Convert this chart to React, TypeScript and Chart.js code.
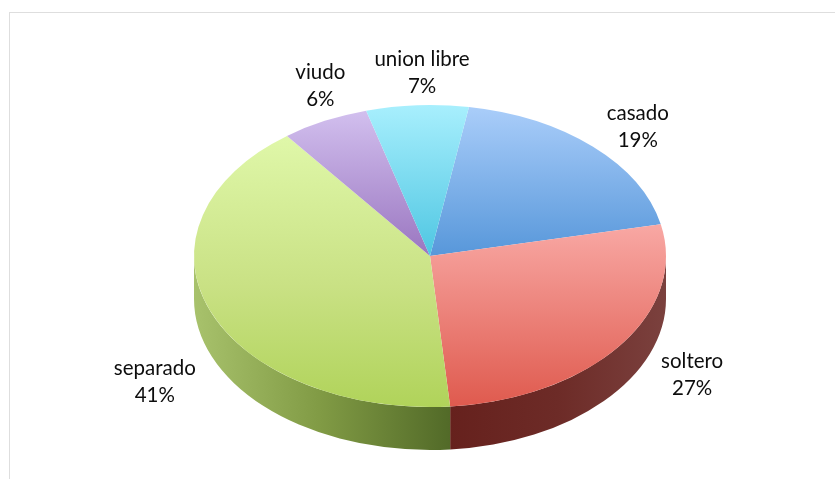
import React, { useEffect, useRef } from "react";
import { Chart, registerables } from "chart.js";

Chart.register(...registerables);

// ---- data ----
const categories = ["casado", "soltero", "separado", "viudo", "union libre"];
const values = [19, 27, 41, 6, 7];
const percentLabels = ["19%", "27%", "41%", "6%", "7%"];

// ---- styles ----
// top-face vertical gradients: [position (0 = pie top, 1 = pie bottom), colour]
const topGradients: [number, string][][] = [
  [[0, "#abcefa"], [0.5, "#5797da"]],
  [[0.38, "#f9aaa6"], [1, "#df5a4e"]],
  [[0.09, "#e0f8aa"], [0.6, "#c9e184"], [1, "#b0d35a"]],
  [[0, "#d4c2f0"], [0.5, "#9a76c0"]],
  [[0, "#a8effd"], [0.5, "#4ec6e2"]],
];
// side-wall horizontal gradients (left -> right of visible wall piece)
const wallGradients: [number, string][][] = [
  [[0, "#3d6fa8"], [1, "#3d6fa8"]],
  [[0, "#66211d"], [0.5, "#6d2b27"], [1, "#7b413e"]],
  [[0, "#a8c26c"], [0.5, "#809a44"], [1, "#526a28"]],
  [[0, "#6a5090"], [1, "#6a5090"]],
  [[0, "#2e8fa8"], [1, "#2e8fa8"]],
];
const labelNudges: [number, number][] = [
  [4, 8],
  [25, 7],
  [0, 58],
  [22, -1],
  [8, 6],
];

const CX = 430;
const CY = 256;
const RX = 236;
const RY = 151;
const DEPTH = 43;
const LABEL_K = 1.25;
const FONT = "20.5px Lato, 'Open Sans', sans-serif";

const pie3dPlugin = {
  id: "pie3d",
  beforeDatasetsDraw(chart: any) {
    const meta = chart.getDatasetMeta(0);
    const arcs = meta.data as any[];
    if (!arcs.length) return;
    const ctx: CanvasRenderingContext2D = chart.ctx;
    const TAU = Math.PI * 2;
    // side walls (front half only: canvas angles 0..PI)
    arcs.forEach((arc, i) => {
      const s = arc.startAngle;
      const e = arc.endAngle;
      for (let k = -2; k <= 2; k++) {
        const lo = k * TAU;
        const hi = lo + Math.PI;
        const a1 = Math.max(s, lo);
        const a2 = Math.min(e, hi);
        if (a2 <= a1) continue;
        const xa = CX + RX * Math.cos(a1);
        const xb = CX + RX * Math.cos(a2);
        let xmin = Math.min(xa, xb);
        let xmax = Math.max(xa, xb);
        if (a1 <= lo + Math.PI && a2 >= lo + Math.PI) xmin = CX - RX;
        if (a1 <= lo && a2 >= lo) xmax = CX + RX;
        const g = ctx.createLinearGradient(xmin, 0, xmax, 0);
        wallGradients[i].forEach(([p, c]) => g.addColorStop(p, c));
        ctx.save();
        ctx.beginPath();
        ctx.ellipse(CX, CY, RX, RY, 0, a1 - lo, a2 - lo, false);
        ctx.ellipse(CX, CY + DEPTH, RX, RY, 0, a2 - lo, a1 - lo, true);
        ctx.closePath();
        ctx.fillStyle = g;
        ctx.fill();
        ctx.restore();
      }
    });
    // squash the library's circle into the ellipse for the top faces
    const r = arcs[0].outerRadius;
    ctx.save();
    ctx.translate(CX, CY);
    ctx.scale(RX / r, RY / r);
    ctx.translate(-arcs[0].x, -arcs[0].y);
  },
  afterDatasetsDraw(chart: any) {
    const ctx: CanvasRenderingContext2D = chart.ctx;
    ctx.restore();
    const meta = chart.getDatasetMeta(0);
    const arcs = meta.data as any[];
    ctx.save();
    ctx.font = FONT;
    ctx.fillStyle = "#0d0d0d";
    ctx.textAlign = "center";
    ctx.textBaseline = "middle";
    arcs.forEach((arc, i) => {
      const mid = (arc.startAngle + arc.endAngle) / 2;
      const lx = CX + LABEL_K * RX * Math.cos(mid) + labelNudges[i][0];
      const ly = CY + LABEL_K * RY * Math.sin(mid) + labelNudges[i][1];
      ctx.fillText(categories[i], lx, ly - 14);
      ctx.fillText(percentLabels[i], lx, ly + 13);
    });
    ctx.restore();
  },
};

export default function App() {
  const canvasRef = useRef<HTMLCanvasElement | null>(null);

  useEffect(() => {
    const canvas = canvasRef.current;
    if (!canvas) return;
    const chart = new Chart(canvas, {
      type: "pie",
      data: {
        labels: categories,
        datasets: [
          {
            data: values,
            borderWidth: 0,
            clip: false as any,
            backgroundColor: (c: any) => {
              const area = c.chart.chartArea;
              const i = c.dataIndex;
              if (!area || i === undefined) return topGradients[0][0][1];
              const cy = (area.top + area.bottom) / 2;
              const r = Math.min(area.right - area.left, area.bottom - area.top) / 2;
              const g = c.chart.ctx.createLinearGradient(0, cy - r, 0, cy + r);
              topGradients[i].forEach(([p, col]) => g.addColorStop(p, col));
              return g;
            },
          },
        ],
      },
      options: {
        animation: false,
        responsive: false,
        devicePixelRatio: 1,
        rotation: 9.5,
        layout: { padding: 0 },
        plugins: {
          legend: { display: false },
          tooltip: { enabled: false },
        },
      },
      plugins: [pie3dPlugin],
    });
    return () => chart.destroy();
  }, []);

  return (
    <div
      style={{
        position: "fixed",
        left: 0,
        top: 0,
        width: 835,
        height: 479,
        overflow: "hidden",
        background: "#fff",
      }}
    >
      <div
        style={{
          position: "absolute",
          left: 9,
          top: 12,
          width: 900,
          height: 600,
          borderTop: "1px solid #dedede",
          borderLeft: "1px solid #dedede",
        }}
      />
      <canvas
        ref={canvasRef}
        width={835}
        height={479}
        style={{ position: "absolute", left: 0, top: 0 }}
      />
    </div>
  );
}
